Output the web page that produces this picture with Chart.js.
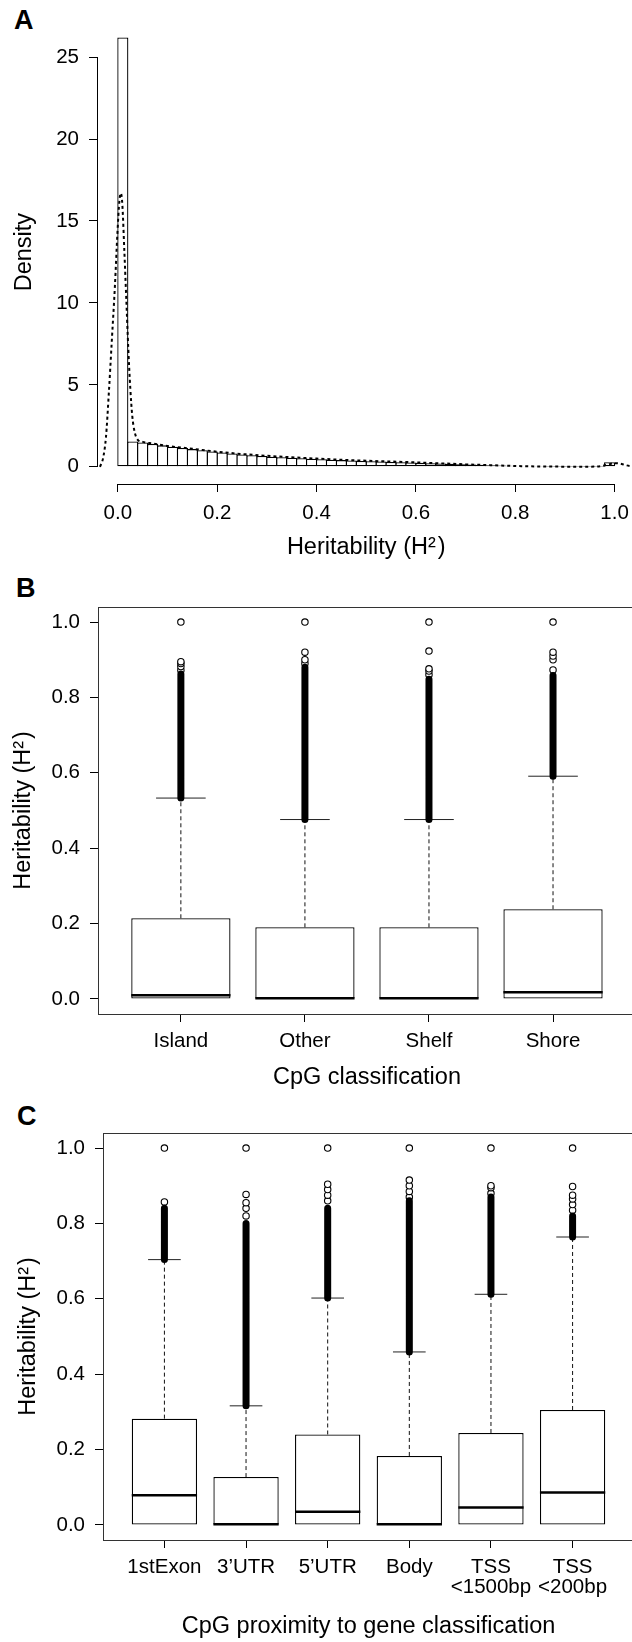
<!DOCTYPE html>
<html>
<head>
<meta charset="utf-8">
<script src="https://cdn.jsdelivr.net/npm/chart.js@4.4.0/dist/chart.umd.min.js"></script>
<style>
  html, body { margin: 0; padding: 0; background: #fff; overflow: hidden; width: 632px; height: 1642px; }
  canvas { position: absolute; left: 0; }
  .tag { position: absolute; font: bold 27px "Liberation Sans", Arial, sans-serif; line-height: 1; color: #000; }
</style>
</head>
<body>
<div class="tag" style="left:14px; top:7px;">A</div>
<div class="tag" style="left:16px; top:575px;">B</div>
<div class="tag" style="left:17px; top:1103px;">C</div>
<canvas id="chartA" width="640" height="570" style="top:0px"></canvas>
<canvas id="chartB" width="640" height="530" style="top:570px"></canvas>
<canvas id="chartC" width="640" height="542" style="top:1100px"></canvas>
<script>
const FONT = '"Liberation Sans", Arial, Helvetica, sans-serif';
Chart.defaults.font.family = FONT;
Chart.defaults.color = '#000';

// A: histogram of heritability (bin mid points, density)
const hMids = [0.01, 0.03, 0.05, 0.07, 0.09, 0.11, 0.13, 0.15, 0.17, 0.19,
               0.21, 0.23, 0.25, 0.27, 0.29, 0.31, 0.33, 0.35, 0.37, 0.39,
               0.41, 0.43, 0.45, 0.47, 0.49, 0.51, 0.53, 0.55, 0.57, 0.59,
               0.61, 0.63, 0.65, 0.67, 0.69, 0.71, 0.73, 0.75, 0.77, 0.79,
               0.81, 0.83, 0.85, 0.87, 0.89, 0.91, 0.93, 0.95, 0.97, 0.99];
const hDensity = [26.2, 1.55, 1.49, 1.40, 1.31, 1.22, 1.15, 1.08, 1.01, 0.94,
                  0.87, 0.81, 0.75, 0.70, 0.66, 0.62, 0.58, 0.55, 0.52, 0.49,
                  0.46, 0.43, 0.41, 0.38, 0.36, 0.34, 0.32, 0.30, 0.28, 0.26,
                  0.24, 0.22, 0.20, 0.18, 0.16, 0.14, 0.12, 0.10, 0.08, 0.06,
                  0.04, 0.03, 0.02, 0.01, 0.01, 0.005, 0.005, 0.005, 0.01, 0.28];
// kernel density curve
const densX = [-0.036, -0.03, -0.024, -0.018, -0.012, -0.006, -0.001, 0.003, 0.006, 0.009,
               0.013, 0.017, 0.021, 0.025, 0.029, 0.034, 0.04, 0.05, 0.07, 0.1,
               0.15, 0.2, 0.25, 0.3, 0.35, 0.4, 0.45, 0.5, 0.55, 0.6,
               0.65, 0.7, 0.75, 0.8, 0.85, 0.9, 0.95, 0.975, 0.99, 1.0,
               1.01, 1.02, 1.03, 1.04];
const densY = [0, 0.5, 1.8, 4.6, 7.8, 11, 14.2, 16.2, 16.7, 16.0,
               13.2, 10.2, 7.2, 4.8, 3.1, 2.1, 1.65, 1.52, 1.42, 1.27,
               1.1, 0.92, 0.78, 0.67, 0.58, 0.5, 0.43, 0.37, 0.32, 0.27,
               0.21, 0.15, 0.1, 0.05, 0.02, 0.01, 0.01, 0.05, 0.16, 0.22,
               0.2, 0.12, 0.05, 0.01];
const aXTicks = [0, 0.2, 0.4, 0.6, 0.8, 1.0];
const aXLabels = ['0.0', '0.2', '0.4', '0.6', '0.8', '1.0'];
const aYTicks = [0, 5, 10, 15, 20, 25];

// B: CpG classification boxplots
const catsB = ['Island', 'Other', 'Shelf', 'Shore'];
const q1B = [0, 0, 0, 0];
const medB = [0.010, 0.002, 0.002, 0.018];
const q3B = [0.214, 0.190, 0.190, 0.238];
const whiskB = [0.533, 0.476, 0.476, 0.591];
const denseTopB = [0.862, 0.880, 0.848, 0.858];
const outB = [[0.872, 0.882, 0.89, 0.895, 1.0],
              [0.89, 0.90, 0.92, 1.0],
              [0.86, 0.87, 0.876, 0.923, 1.0],
              [0.873, 0.90, 0.91, 0.92, 1.0]];

// C: CpG proximity to gene boxplots
const catsC = [['1stExon'], ['3\u2019UTR'], ['5\u2019UTR'], ['Body'], ['TSS', '<1500bp'], ['TSS', '<200bp']];
const q1C = [0, 0, 0, 0, 0, 0];
const medC = [0.079, 0.002, 0.035, 0.002, 0.046, 0.086];
const q3C = [0.282, 0.127, 0.240, 0.183, 0.244, 0.305];
const whiskC = [0.704, 0.316, 0.602, 0.459, 0.612, 0.764];
const denseTopC = [0.84, 0.80, 0.84, 0.86, 0.87, 0.82];
const outC = [[0.857, 1.0],
              [0.82, 0.84, 0.855, 0.877, 1.0],
              [0.86, 0.875, 0.89, 0.904, 1.0],
              [0.87, 0.885, 0.90, 0.915, 1.0],
              [0.88, 0.895, 0.90, 1.0],
              [0.835, 0.85, 0.865, 0.875, 0.898, 1.0]];
const bcYTicks = [0, 0.2, 0.4, 0.6, 0.8, 1.0];
const bcYLabels = ['0.0', '0.2', '0.4', '0.6', '0.8', '1.0'];

const H2 = 'Heritability (H\u00B2\u200A)';
const tickFont = { family: FONT, size: 20.5, lineHeight: 1 };
const titleFont = { family: FONT, size: 23.5 };

// R-style axis lines for the histogram, full frame for the boxplots
const rAxes = {
  id: 'rAxes',
  afterDraw(chart) {
    const { ctx, chartArea: a, scales: { x, y } } = chart;
    ctx.save();
    ctx.strokeStyle = '#000';
    ctx.lineWidth = 1;
    ctx.beginPath();
    const lx = Math.round(a.left) - 0.5;
    ctx.moveTo(lx, y.getPixelForValue(aYTicks[0]));
    ctx.lineTo(lx, y.getPixelForValue(aYTicks[aYTicks.length - 1]));
    const by = Math.round(a.bottom) + 0.5;
    ctx.moveTo(x.getPixelForValue(aXTicks[0]), by);
    ctx.lineTo(x.getPixelForValue(aXTicks[aXTicks.length - 1]), by);
    ctx.stroke();
    ctx.restore();
  }
};
const frame = {
  id: 'frame',
  afterDraw(chart) {
    const { ctx, chartArea: a } = chart;
    ctx.save();
    ctx.strokeStyle = '#333';
    ctx.lineWidth = 1;
    ctx.strokeRect(Math.round(a.left) - 0.5, Math.round(a.top) + 0.5,
                   Math.round(a.right - a.left), Math.round(a.bottom - a.top));
    ctx.restore();
  }
};

function yAxis(ticks, labels, width, titleText, titlePad, min, max) {
  return {
    type: 'linear', min: min, max: max,
    grid: { display: true, drawOnChartArea: false, drawTicks: true, tickLength: 9, color: '#000', tickColor: '#000' },
    border: { display: false },
    afterBuildTicks: s => { s.ticks = ticks.map(v => ({ value: v })); },
    afterFit: s => { s.width = width; },
    ticks: { autoSkip: false, padding: 10, font: tickFont, color: '#000',
             callback: (v, i) => labels[i] },
    title: { display: true, text: titleText, font: titleFont, color: '#000', padding: { top: titlePad, bottom: 0 } }
  };
}

function xAxis(ticks, labels, height, titleText, titlePad, min, max, pad) {
  return {
    type: 'linear', min: min, max: max, offset: false,
    grid: { display: true, offset: false, drawOnChartArea: false, drawTicks: true, tickLength: 8, color: '#000', tickColor: '#000' },
    border: { display: false },
    afterBuildTicks: s => { s.ticks = ticks.map(v => ({ value: v })); },
    afterFit: s => { s.height = height; },
    ticks: { autoSkip: false, maxRotation: 0, minRotation: 0, padding: pad, font: tickFont, color: '#000',
             callback: (v, i) => labels[i] },
    title: { display: true, text: titleText, font: titleFont, color: '#000', padding: { top: 0, bottom: titlePad } }
  };
}

const baseOpts = {
  responsive: false, animation: false, devicePixelRatio: 1,
  plugins: { legend: { display: false }, tooltip: { enabled: false } }
};

// Panel A
new Chart(document.getElementById('chartA'), {
  type: 'bar',
  data: {
    datasets: [
      { type: 'line', order: 0, data: densX.map((x, i) => ({ x: x, y: densY[i] })),
        borderColor: '#000', borderWidth: 2, borderDash: [3, 3], pointRadius: 0,
        cubicInterpolationMode: 'monotone' },
      { type: 'bar', order: 1, data: hMids.map((x, i) => ({ x: x, y: hDensity[i] })),
        backgroundColor: '#fff', borderColor: '#000', borderWidth: 1.3, borderSkipped: false,
        barPercentage: 1.12, categoryPercentage: 1 }
    ]
  },
  options: Object.assign({}, baseOpts, {
    layout: { padding: { top: 12, right: 5, left: 0, bottom: 0 } },
    scales: {
      x: xAxis(aXTicks, aXLabels, 86, H2, 8.6, -0.04, 1.04, 11),
      y: yAxis(aYTicks, aYTicks.map(String), 98, 'Density', 10.6, -1.05, 27.25)
    }
  }),
  plugins: [rAxes]
});

function boxSets(q1, q3, med, whisk, denseTop, outs) {
  const pos = q1.map((_, i) => i + 1);
  const gap = (i) => ({ x: pos[i], y: null });
  return [
    { type: 'line', order: 0, data: pos.flatMap((p, i) => [{ x: p - 0.4, y: med[i] }, { x: p + 0.4, y: med[i] }, gap(i)]),
      borderColor: '#000', borderWidth: 2.5, pointRadius: 0, spanGaps: false },
    { type: 'line', order: 2, data: pos.flatMap((p, i) => [{ x: p, y: q3[i] }, { x: p, y: whisk[i] }, gap(i)]),
      borderColor: '#111', borderWidth: 1, borderDash: [4, 3], pointRadius: 0, spanGaps: false },
    { type: 'line', order: 2, data: pos.flatMap((p, i) => [{ x: p - 0.2, y: whisk[i] }, { x: p + 0.2, y: whisk[i] }, gap(i)]),
      borderColor: '#222', borderWidth: 1, pointRadius: 0, spanGaps: false },
    { type: 'line', order: 1, data: pos.flatMap((p, i) => [{ x: p, y: whisk[i] }, { x: p, y: denseTop[i] }, gap(i)]),
      borderColor: '#000', borderWidth: 7, borderCapStyle: 'round', pointRadius: 0, spanGaps: false },
    { type: 'line', order: 1, showLine: false, data: pos.flatMap((p, i) => outs[i].map(v => ({ x: p, y: v }))),
      pointRadius: 3.2, pointBorderWidth: 1.1, pointBorderColor: '#000', pointBackgroundColor: '#fff' },
    { type: 'bar', order: 3, data: pos.map((p, i) => ({ x: p, y: [q1[i], q3[i]] })),
      backgroundColor: '#fff', borderColor: '#000', borderWidth: 1.3, borderSkipped: false,
      barPercentage: 0.8, categoryPercentage: 1 }
  ];
}

// Panel B
new Chart(document.getElementById('chartB'), {
  type: 'bar',
  data: { datasets: boxSets(q1B, q3B, medB, whiskB, denseTopB, outB) },
  options: Object.assign({}, baseOpts, {
    layout: { padding: { top: 37, right: 3, left: 0, bottom: 0 } },
    scales: {
      x: xAxis([1, 2, 3, 4], catsB, 86, 'CpG classification', 8.6, 0.34, 4.66, 9),
      y: yAxis(bcYTicks, bcYLabels, 99, H2, 9.6, -0.04, 1.04)
    }
  }),
  plugins: [frame]
});

// Panel C
new Chart(document.getElementById('chartC'), {
  type: 'bar',
  data: { datasets: boxSets(q1C, q3C, medC, whiskC, denseTopC, outC) },
  options: Object.assign({}, baseOpts, {
    layout: { padding: { top: 33, right: 7, left: 0, bottom: 0 } },
    scales: {
      x: xAxis([1, 2, 3, 4, 5, 6], catsC, 102, 'CpG proximity to gene classification', 1, 0.26, 6.74, 9),
      y: yAxis(bcYTicks, bcYLabels, 104, H2, 14.6, -0.04, 1.04)
    }
  }),
  plugins: [frame]
});
</script>
</body>
</html>
